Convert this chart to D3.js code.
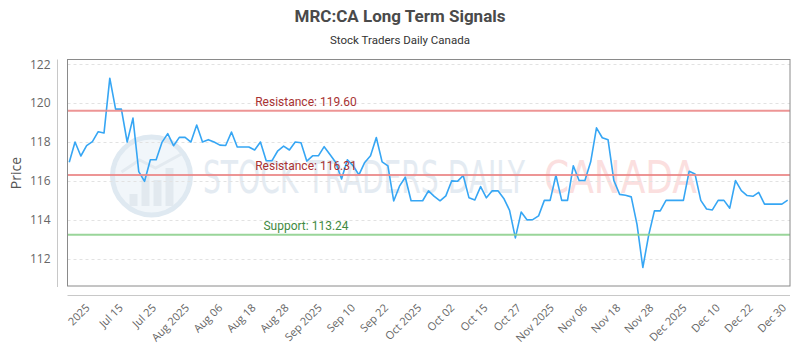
<!DOCTYPE html>
<html>
<head>
<meta charset="utf-8">
<script src="https://cdn.jsdelivr.net/npm/d3@7"></script>
<style>
  html, body { margin: 0; padding: 0; background: #fff; }
  svg { display: block; }
</style>
</head>
<body>
<div id="chart"></div>
<script>
// ---------- data ----------
const title = "MRC:CA Long Term Signals";
const subtitle = "Stock Traders Daily Canada";
const yLabel = "Price";

const prices = [
  116.96, 118.00, 117.28, 117.81, 118.02, 118.53, 118.46, 121.28, 119.69, 119.69,
  118.00, 119.23, 116.48, 115.98, 117.09, 117.09, 117.98, 118.43, 117.81, 118.24,
  118.24, 118.00, 118.87, 118.00, 118.12, 118.00, 117.84, 117.82, 118.51, 117.74,
  117.74, 117.74, 117.59, 118.00, 117.04, 117.04, 117.55, 117.79, 117.59, 118.00,
  117.96, 117.02, 117.29, 117.29, 117.76, 117.36, 116.95, 116.10, 117.09, 116.78,
  116.31, 116.95, 117.29, 118.23, 116.98, 116.77, 114.97, 115.73, 116.19, 114.98,
  114.98, 114.98, 115.49, 115.21, 114.98, 115.23, 116.00, 115.98, 116.28, 115.13,
  115.02, 115.71, 115.13, 115.49, 115.49, 115.10, 114.49, 113.07, 114.40, 114.00,
  114.01, 114.20, 115.00, 115.00, 116.29, 115.00, 115.00, 116.78, 116.02, 116.02,
  116.98, 118.73, 118.22, 118.11, 116.02, 115.31, 115.26, 115.18, 113.75, 111.55,
  113.20, 114.46, 114.46, 115.00, 115.00, 115.00, 115.00, 116.50, 116.36, 115.00,
  114.56, 114.51, 115.00, 115.00, 114.60, 116.02, 115.50, 115.25, 115.21, 115.41,
  114.81, 114.81, 114.81, 114.81, 115.01
];

const xTickLabels = [
  "2025", "Jul 15", "Jul 25", "Aug 2025", "Aug 06", "Aug 18", "Aug 28",
  "Sep 2025", "Sep 10", "Sep 22", "Oct 2025", "Oct 02", "Oct 15", "Oct 27",
  "Nov 2025", "Nov 06", "Nov 18", "Nov 28", "Dec 2025", "Dec 10", "Dec 22", "Dec 30"
];
// first / last labelled position, in data-point index units
const xTickSpan = [3.5, 123.7];

const yTicks = [112, 114, 116, 118, 120, 122];
const yDomain = [110.6, 122.24];

const levelNames = ["Resistance", "Resistance", "Support"];
const levelValues = [119.60, 116.31, 113.24];
const levelKinds = ["res", "res", "sup"];

// ---------- layout ----------
const W = 800, H = 350;
const plot = { left: 67.5, right: 790, top: 59.5, bottom: 286 };

const svg = d3.select("#chart").append("svg")
  .attr("width", W).attr("height", H)
  .attr("viewBox", `0 0 ${W} ${H}`);

svg.append("rect").attr("width", W).attr("height", H).attr("fill", "#fff");

const x = d3.scaleLinear()
  .domain([-0.3, prices.length - 1 + 0.4])
  .range([plot.left, plot.right]);
const y = d3.scaleLinear().domain(yDomain).range([plot.bottom, plot.top]);

// ---------- title ----------
svg.append("text")
  .attr("x", 400).attr("y", 22)
  .attr("text-anchor", "middle")
  .attr("font-family", "Roboto, 'Open Sans', sans-serif")
  .attr("font-weight", "bold")
  .attr("font-size", 17)
  .attr("fill", "#4a4a4a")
  .text(title);

svg.append("text")
  .attr("x", 400).attr("y", 44)
  .attr("text-anchor", "middle")
  .attr("font-family", "Roboto, 'Open Sans', sans-serif")
  .attr("font-size", 11.5)
  .attr("fill", "#333")
  .text(subtitle);

// ---------- watermark ----------
const wm = svg.append("g").attr("class", "watermark");
const cx = 151.5, cy = 176, r = 39;
wm.append("circle").attr("cx", cx).attr("cy", cy).attr("r", r)
  .attr("fill", "#f1f6fa").attr("stroke", "#dfe9f1").attr("stroke-width", 5);
[[-22, 14], [-10, 24], [2, 18], [14, 30]].forEach(([dx, h], i) => {
  wm.append("rect")
    .attr("x", cx + dx).attr("y", cy + 30 - h - 8 + (i === 0 ? 10 : 0))
    .attr("width", 8).attr("height", h + 8 - (i === 0 ? 10 : 0))
    .attr("fill", "#e2e9ef");
});
wm.append("path")
  .attr("d", `M${cx - 30},${cy - 4} L${cx - 12},${cy - 16} L${cx + 4},${cy - 8} L${cx + 30},${cy - 22}`)
  .attr("fill", "none").attr("stroke", "#e3eaf0").attr("stroke-width", 3);

wm.append("text")
  .attr("x", 203).attr("y", 193)
  .attr("font-family", "'Liberation Sans Narrow', 'DejaVu Sans Condensed', sans-serif")
  .attr("font-size", 44)
  .attr("textLength", 322)
  .attr("lengthAdjust", "spacingAndGlyphs")
  .attr("fill", "#e4ebf2")
  .text("STOCK TRADERS DAILY");
wm.append("text")
  .attr("x", 544).attr("y", 193)
  .attr("font-family", "'Liberation Sans Narrow', 'DejaVu Sans Condensed', sans-serif")
  .attr("font-size", 44)
  .attr("textLength", 153)
  .attr("lengthAdjust", "spacingAndGlyphs")
  .attr("fill", "#fbdfdf")
  .text("CANADA");

// ---------- grid ----------
svg.append("g")
  .selectAll("line")
  .data(yTicks)
  .join("line")
  .attr("x1", plot.left).attr("x2", plot.right)
  .attr("y1", d => Math.round(y(d)) + 0.5).attr("y2", d => Math.round(y(d)) + 0.5)
  .attr("stroke", "#e2e2e2")
  .attr("stroke-dasharray", "3,3");

// ---------- y axis ----------
const yAxis = svg.append("g")
  .attr("transform", `translate(57.5,0)`)
  .call(d3.axisLeft(y).tickValues(yTicks).tickSize(0).tickPadding(7).tickFormat(d3.format("d")));
yAxis.select(".domain").attr("stroke", "#c8c8c8").attr("d", `M0,${plot.top}V${plot.bottom + 1}`);
yAxis.selectAll("text")
  .attr("font-family", "'Open Sans', sans-serif")
  .attr("font-size", 12)
  .attr("fill", "#666");

svg.append("text")
  .attr("transform", `translate(21,173) rotate(-90)`)
  .attr("text-anchor", "middle")
  .attr("font-family", "'Open Sans', sans-serif")
  .attr("font-size", 14)
  .attr("fill", "#555")
  .text(yLabel);

// ---------- x axis ----------
const tickScale = d3.scaleLinear().domain([0, xTickLabels.length - 1]).range(xTickSpan);
const xAxisG = svg.append("g").attr("transform", `translate(0,295.5)`);
xAxisG.append("line")
  .attr("x1", plot.left).attr("x2", plot.right)
  .attr("stroke", "#c8c8c8");
xAxisG.selectAll("text")
  .data(xTickLabels)
  .join("text")
  .attr("transform", (d, i) => `translate(${x(tickScale(i)) + 1},13) rotate(-45)`)
  .attr("text-anchor", "end")
  .attr("font-family", "'Open Sans', sans-serif")
  .attr("font-size", 11)
  .attr("fill", "#666")
  .text(d => d);

// ---------- levels ----------
const levelColor = { res: "#eb8a8a", sup: "#8fd08f" };
const levelText = { res: "#a83232", sup: "#3f8a3f" };
const lv = svg.append("g");
levelValues.forEach((v, i) => {
  lv.append("line")
    .attr("x1", plot.left).attr("x2", plot.right)
    .attr("y1", y(v)).attr("y2", y(v))
    .attr("stroke", levelColor[levelKinds[i]])
    .attr("stroke-width", 2)
    .attr("stroke-opacity", 0.9);
});

// ---------- price line ----------
svg.append("path")
  .datum(prices)
  .attr("fill", "none")
  .attr("stroke", "#36a6f4")
  .attr("stroke-width", 1.6)
  .attr("stroke-linejoin", "round")
  .attr("d", d3.line().x((d, i) => x(i)).y(d => y(d)));

levelValues.forEach((v, i) => {
  lv.append("text")
    .attr("x", 306).attr("y", y(v) - 5)
    .attr("text-anchor", "middle")
    .attr("font-family", "Roboto, sans-serif")
    .attr("font-size", 12)
    .attr("fill", levelText[levelKinds[i]])
    .text(`${levelNames[i]}: ${v.toFixed(2)}`);
});
lv.raise();

// ---------- frame ----------
svg.append("rect")
  .attr("x", plot.left).attr("y", plot.top)
  .attr("width", plot.right - plot.left).attr("height", plot.bottom - plot.top)
  .attr("fill", "none").attr("stroke", "#8a8a8a").attr("stroke-width", 1);
</script>
</body>
</html>
